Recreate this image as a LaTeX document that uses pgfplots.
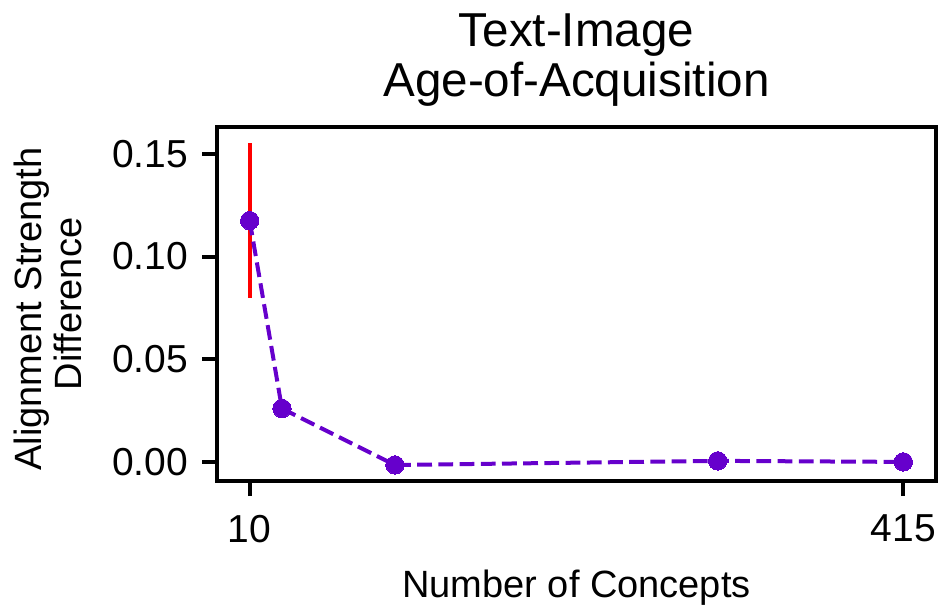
\documentclass[border=0pt]{standalone}
\usepackage{pgfplots}
\pgfplotsset{compat=1.18}
\usepackage{fontspec}
\setmainfont{Liberation Sans}
\definecolor{pp}{RGB}{102,0,204}
\begin{document}
\begin{tikzpicture}
\useasboundingbox (-108.5bp,-62.5bp) rectangle (360.5bp,240.5bp);
\begin{axis}[
  at={(0,0)}, anchor=south west,
  scale only axis, width=359.5bp, height=177bp,
  xmin=-10.25, xmax=435.25, ymin=-0.0093, ymax=0.1631,
  xtick={10,415}, ytick={0,0.05,0.10,0.15},
  axis line style={line width=2bp},
  every tick/.style={line width=2bp, black},
  tick align=outside, major tick length=7.5bp,
  xtick pos=bottom, ytick pos=left,
  minor tick num=0,
  /pgf/number format/assume math mode=true,
  scaled y ticks=false,
  y tick label style={/pgf/number format/.cd, fixed, fixed zerofill, precision=2, /tikz/.cd, xshift=-3.5bp},
  x tick label style={yshift=-6bp},
  tick label style={font=\fontsize{19.5bp}{22bp}\selectfont},
  clip=false,
]
\addplot[draw=none, forget plot,
  error bars/.cd, y dir=both, y explicit, error mark=none,
  error bar style={red, line width=2bp}]
  coordinates {(10,0.1175) +- (0,0.0378)};
\addplot[pp, line width=2bp, dash pattern=on 7.4bp off 3.2bp,
  mark=*, mark size=4.6bp, mark options={solid, fill=pp, draw=pp, line width=0pt}]
  coordinates {(10,0.1175) (30,0.0260) (100,-0.0015) (300,0.0005) (415,0.0000)};
\end{axis}
\node[anchor=base, font=\fontsize{19bp}{22bp}\selectfont] at (179.75bp,-58bp) {Number of Concepts};
\node[anchor=base, font=\fontsize{23.8bp}{28bp}\selectfont] at (179.75bp,217bp) {Text-Image};
\node[anchor=base, font=\fontsize{23.8bp}{28bp}\selectfont] at (179.75bp,192bp) {Age-of-Acquisition};
\node[anchor=base, rotate=90, font=\fontsize{19bp}{22bp}\selectfont] at (-87.5bp,86bp) {Alignment Strength};
\node[anchor=base, rotate=90, font=\fontsize{19bp}{22bp}\selectfont] at (-67.5bp,88.5bp) {Difference};
\end{tikzpicture}
\end{document}
